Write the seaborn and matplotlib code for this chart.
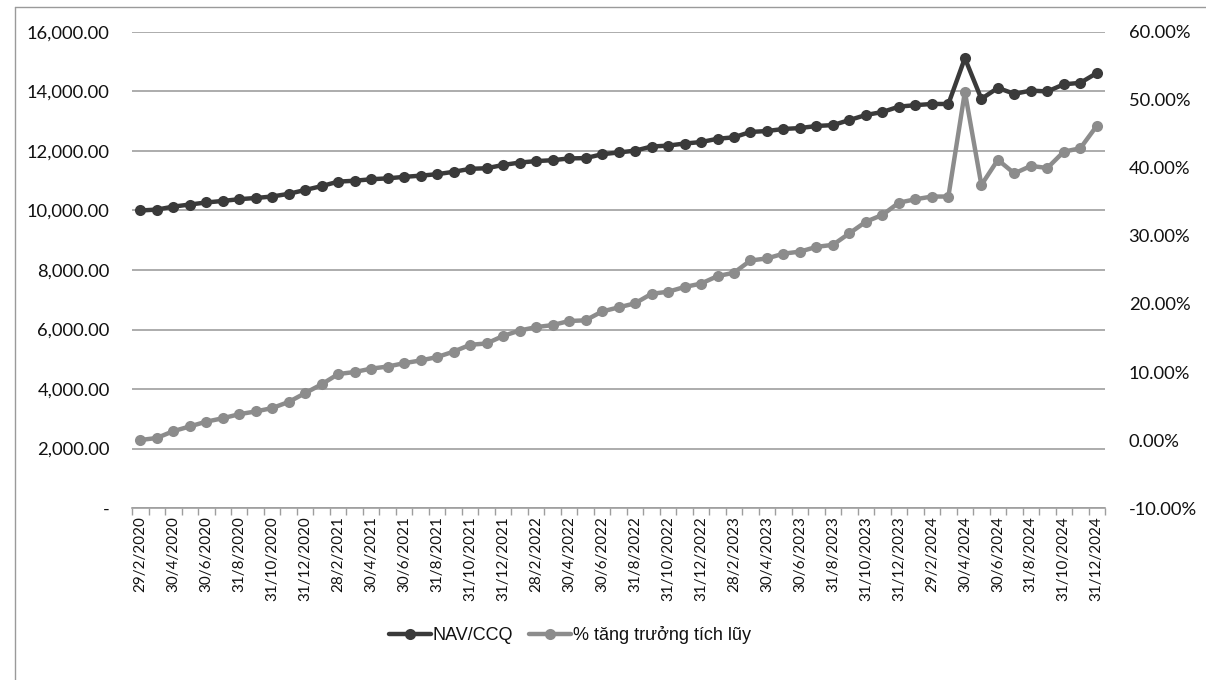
import matplotlib
matplotlib.use("Agg")
import matplotlib.pyplot as plt
import matplotlib.ticker as mticker
from matplotlib.lines import Line2D
import numpy as np
import pandas as pd
import seaborn as sns

# Month-end valuation dates (category axis)
dates = [
    "29/2/2020", "31/3/2020", "30/4/2020", "31/5/2020", "30/6/2020", "31/7/2020",
    "31/8/2020", "30/9/2020", "31/10/2020", "30/11/2020", "31/12/2020",
    "31/1/2021", "28/2/2021", "31/3/2021", "30/4/2021", "31/5/2021", "30/6/2021",
    "31/7/2021", "31/8/2021", "30/9/2021", "31/10/2021", "30/11/2021", "31/12/2021",
    "31/1/2022", "28/2/2022", "31/3/2022", "30/4/2022", "31/5/2022", "30/6/2022",
    "31/7/2022", "31/8/2022", "30/9/2022", "31/10/2022", "30/11/2022", "31/12/2022",
    "31/1/2023", "28/2/2023", "31/3/2023", "30/4/2023", "31/5/2023", "30/6/2023",
    "31/7/2023", "31/8/2023", "30/9/2023", "31/10/2023", "30/11/2023", "31/12/2023",
    "31/1/2024", "29/2/2024", "31/3/2024", "30/4/2024", "31/5/2024", "30/6/2024",
    "31/7/2024", "31/8/2024", "30/9/2024", "31/10/2024", "30/11/2024", "31/12/2024",
]

# NAV per fund unit (VND)
nav = [
    10000, 10030, 10130, 10200, 10270, 10320, 10380, 10420, 10470, 10560,
    10690, 10820, 10970, 11000, 11050, 11080, 11130, 11170, 11220, 11300,
    11400, 11420, 11530, 11610, 11660, 11690, 11750, 11760, 11890, 11950,
    12010, 12150, 12180, 12250, 12300, 12410, 12460, 12640, 12670, 12740,
    12770, 12840, 12870, 13040, 13210, 13310, 13490, 13540, 13580, 13580,
    15120, 13750, 14120, 13920, 14030, 14000, 14240, 14290, 14620,
]

# Cumulative growth since inception (%)
growth_pct = [
    0.0, 0.3, 1.3, 2.0, 2.7, 3.2, 3.8, 4.2, 4.7, 5.6,
    6.9, 8.2, 9.7, 10.0, 10.5, 10.8, 11.3, 11.7, 12.2, 13.0,
    14.0, 14.2, 15.3, 16.1, 16.6, 16.9, 17.5, 17.6, 18.9, 19.5,
    20.1, 21.5, 21.8, 22.5, 23.0, 24.1, 24.6, 26.4, 26.7, 27.4,
    27.7, 28.4, 28.7, 30.4, 32.1, 33.1, 34.9, 35.4, 35.8, 35.8,
    51.2, 37.5, 41.2, 39.2, 40.3, 40.0, 42.4, 42.9, 46.2,
]

series_names = ["NAV/CCQ", "% tăng trưởng tích lũy"]

df = pd.DataFrame({
    "pos": np.arange(len(dates)),
    "date": dates,
    "nav": nav,
    "growth": np.array(growth_pct) / 100.0,
})

sns.set_theme(style="white")
plt.rcParams["font.family"] = ["Lato", "DejaVu Sans"]

NAV_COLOR = "#3a3a3a"
GROWTH_COLOR = "#8c8c8c"
GRID_COLOR = "#9e9e9e"
TEXT_COLOR = "#111111"
LW = 3.2
MS = 8.0

fig = plt.figure(figsize=(12.06, 6.8), dpi=100)
fig.patch.set_facecolor("white")
ax = fig.add_axes([0.1095, 0.2529, 0.8068, 0.7001])
ax2 = ax.twinx()

sns.lineplot(data=df, x="pos", y="nav", ax=ax, color=NAV_COLOR, linewidth=LW,
             marker="o", markersize=MS, markeredgewidth=0, label=series_names[0],
             legend=False, zorder=3)
sns.lineplot(data=df, x="pos", y="growth", ax=ax2, color=GROWTH_COLOR, linewidth=LW,
             marker="o", markersize=MS, markeredgewidth=0, label=series_names[1],
             legend=False, zorder=3)

# Left axis: NAV
ax.set_ylim(0, 16000)
ax.set_yticks(np.arange(0, 16001, 2000))
ax.yaxis.set_major_formatter(mticker.FuncFormatter(
    lambda v, _: "-" if abs(v) < 1e-9 else f"{v:,.2f}"))
ax.grid(axis="y", color=GRID_COLOR, linewidth=1.2)
ax.grid(axis="x", visible=False)
ax.set_axisbelow(True)

# Right axis: cumulative growth
ax2.set_ylim(-0.10, 0.60)
ax2.set_yticks(np.arange(-0.10, 0.601, 0.10))
ax2.yaxis.set_major_formatter(mticker.FuncFormatter(lambda v, _: f"{v * 100:.2f}%"))
ax2.grid(False)

# Category axis: labels every other month, tick marks between categories
ax.set_xlim(-0.5, len(dates) - 0.5)
ax.set_xticks(df["pos"][::2])
ax.set_xticklabels(df["date"][::2], rotation=90, fontsize=11, color=TEXT_COLOR)
ax.set_xticks(np.arange(-0.5, len(dates), 1.0), minor=True)
ax.tick_params(axis="x", which="major", length=0, pad=6)
ax.tick_params(axis="x", which="minor", length=5, width=1, color=GRID_COLOR,
               direction="out", bottom=True)
ax.tick_params(axis="y", length=0, pad=16, labelsize=13.2, labelcolor=TEXT_COLOR)
ax2.tick_params(axis="y", length=0, pad=17, labelsize=13.2, labelcolor=TEXT_COLOR)
ax.set_xlabel("")
ax.set_ylabel("")
ax2.set_ylabel("")

for a in (ax, ax2):
    for side in ("left", "right", "top"):
        a.spines[side].set_visible(False)
ax2.spines["bottom"].set_visible(False)
ax.spines["bottom"].set_color(GRID_COLOR)
ax.spines["bottom"].set_linewidth(1.2)

# Legend below the chart
handles = [
    Line2D([0], [0], color=NAV_COLOR, lw=LW, marker="o", markersize=MS,
           markeredgewidth=0),
    Line2D([0], [0], color=GROWTH_COLOR, lw=LW, marker="o", markersize=MS,
           markeredgewidth=0),
]
fig.legend(handles, series_names, loc="center", bbox_to_anchor=(0.4726, 0.066),
           ncol=2, frameon=False, handlelength=2.3, handletextpad=0.1,
           columnspacing=0.9, prop={"family": ["Liberation Sans", "DejaVu Sans"],
                                    "size": 13},
           labelcolor=TEXT_COLOR)

# Chart frame
fig.add_artist(Line2D([0.0124, 0.0124], [0.0, 0.9897], transform=fig.transFigure,
                      color="#9a9a9a", lw=1.0))
fig.add_artist(Line2D([0.0124, 1.0], [0.9897, 0.9897], transform=fig.transFigure,
                      color="#9a9a9a", lw=1.0))

fig.savefig("out.png", dpi=100, facecolor="white")
